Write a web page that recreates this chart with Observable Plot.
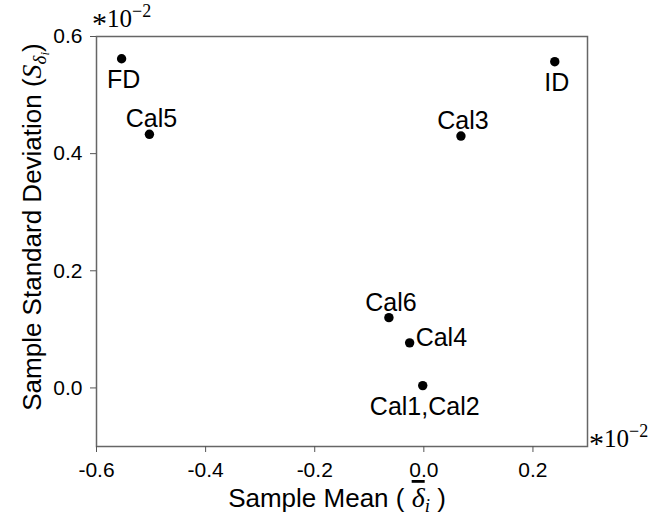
<!DOCTYPE html>
<html>
<head>
<meta charset="utf-8">
<script src="https://cdn.jsdelivr.net/npm/d3@7"></script>
<script src="https://cdn.jsdelivr.net/npm/@observablehq/plot@0.6"></script>
<style>
  html, body { margin: 0; padding: 0; background: #fff; }
  #chart svg { display: block; }
</style>
</head>
<body>
<div id="chart"></div>
<script>
// Sample mean and sample standard deviation of the calibration error for each method
const names   = ["FD", "Cal5", "Cal3", "ID", "Cal6", "Cal4", "Cal1,Cal2"];
const means   = [-0.554, -0.503, 0.068, 0.240, -0.064, -0.026, -0.002];
const stdDevs = [0.562, 0.433, 0.430, 0.557, 0.120, 0.077, 0.004];

const xTicks = [-0.6, -0.4, -0.2, 0.0, 0.2];
const yTicks = [0.0, 0.2, 0.4, 0.6];

// Label placement groups
const labelBelow = ["FD", "ID", "Cal1,Cal2"];
const labelAbove = ["Cal5", "Cal3", "Cal6"];
const labelRight = ["Cal4"];

const points = names.map((name, i) => ({name, mean: means[i], sd: stdDevs[i]}));
const pick = (list) => points.filter(d => list.includes(d.name));

const sans = "'Liberation Sans', Arial, Helvetica, sans-serif";
const serif = "'Liberation Serif', 'Times New Roman', serif";
const fmt = d => d.toFixed(1);

const chart = Plot.plot({
  width: 652,
  height: 527,
  marginLeft: 96,
  marginRight: 65,
  marginTop: 36,
  marginBottom: 81,
  style: {fontFamily: sans, fontSize: "21px", color: "#000", background: "#fff"},
  x: {domain: [-0.6, 0.3]},
  y: {domain: [-0.1, 0.6]},
  marks: [
    Plot.frame({stroke: "#666", strokeWidth: 1.5}),
    Plot.axisX({ticks: xTicks, tickFormat: fmt, tickSize: 6, tickPadding: 10, stroke: "#555",
                fill: "#000", fontSize: 21, label: null}),
    Plot.axisY({ticks: yTicks, tickFormat: fmt, tickSize: 6, tickPadding: 8, stroke: "#555",
                fill: "#000", fontSize: 21, label: null}),
    Plot.dot(points, {x: "mean", y: "sd", r: 4.7, fill: "#000", stroke: null}),
    Plot.text(pick(labelBelow), {x: "mean", y: "sd", text: "name", lineAnchor: "bottom",
                                 dy: 29, dx: 2, fontSize: 25, fill: "#000"}),
    Plot.text(pick(labelAbove), {x: "mean", y: "sd", text: "name", lineAnchor: "bottom",
                                 dy: -7, dx: 2, fontSize: 25, fill: "#000"}),
    Plot.text(pick(labelRight), {x: "mean", y: "sd", text: "name", lineAnchor: "bottom",
                                 textAnchor: "start", dy: 3, dx: 6, fontSize: 25, fill: "#000"})
  ]
});

document.getElementById("chart").appendChild(chart);

// Axis titles with math notation, plus the ×10⁻² scale notes
const svg = d3.select(chart);

const xt = svg.append("text")
  .attr("x", 337).attr("y", 507)
  .attr("text-anchor", "middle")
  .attr("font-family", sans).attr("font-size", 26).attr("fill", "#000");
xt.append("tspan").text("Sample Mean ( ");
xt.append("tspan").attr("font-family", serif).attr("font-style", "italic")
  .attr("font-size", 28).style("text-decoration", "overline").text("δ");
xt.append("tspan").attr("font-family", serif).attr("font-style", "italic")
  .attr("font-size", 19).attr("dy", 5).text("i");
xt.append("tspan").attr("dy", -5).text(" )");

const yt = svg.append("text")
  .attr("transform", "translate(41,227) rotate(-90)")
  .attr("text-anchor", "middle")
  .attr("font-family", sans).attr("font-size", 26).attr("fill", "#000");
yt.append("tspan").text("Sample Standard Deviation (");
yt.append("tspan").attr("font-family", serif).attr("font-style", "italic")
  .attr("font-size", 28).text("S");
yt.append("tspan").attr("font-family", serif).attr("font-style", "italic")
  .attr("font-size", 19).attr("dy", 5).text("δ");
yt.append("tspan").attr("font-family", serif).attr("font-style", "italic")
  .attr("font-size", 13).attr("dy", 3).text("i");
yt.append("tspan").attr("dy", -8).text(")");

function scaleNote(x, y) {
  const t = svg.append("text")
    .attr("x", x).attr("y", y)
    .attr("text-anchor", "start")
    .attr("font-family", serif).attr("font-size", 25).attr("fill", "#000");
  t.append("tspan").attr("font-size", 30).attr("dy", 6).text("*");
  t.append("tspan").attr("dy", -6).text("10");
  t.append("tspan").attr("font-size", 18).attr("dy", -10).text("−2");
}
scaleNote(92, 27);
scaleNote(589, 447);
</script>
</body>
</html>
